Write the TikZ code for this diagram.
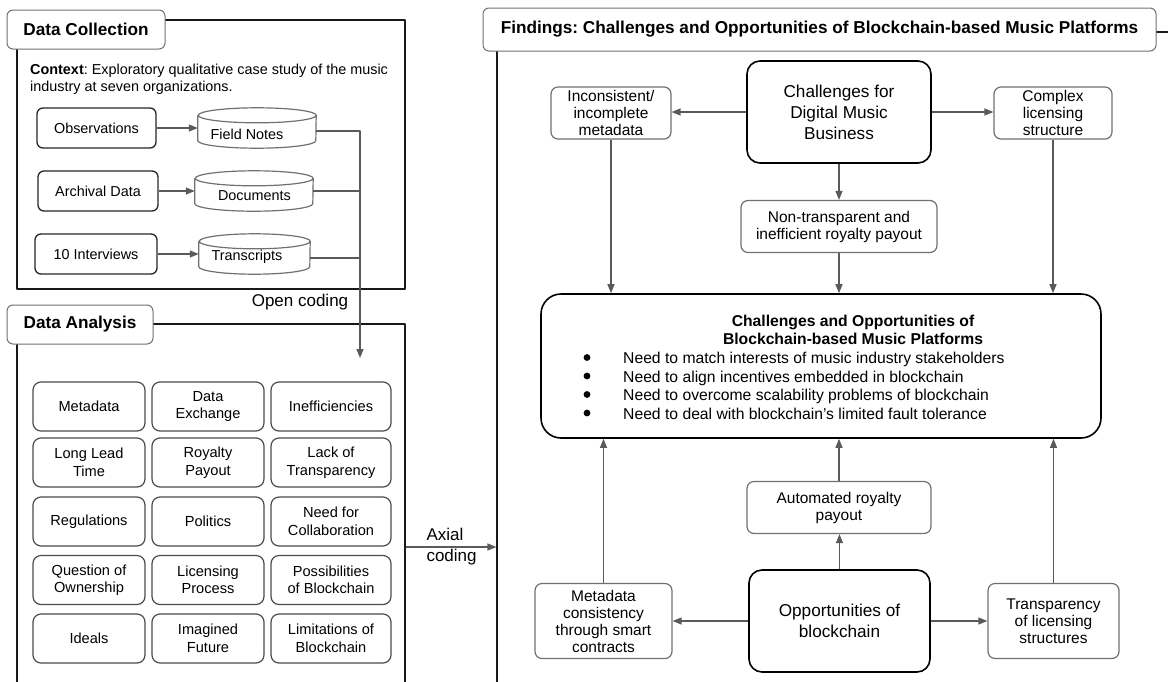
\documentclass[tikz,border=0pt]{standalone}
\usepackage{fontspec}
\setmainfont{Liberation Sans}
\usetikzlibrary{arrows.meta,positioning,calc}
\definecolor{linegray}{HTML}{5A5A5A}
\definecolor{framegray}{HTML}{707070}
\frenchspacing
\tikzset{
  paneltitle/.style={draw=framegray,fill=white,rounded corners=6pt,line width=1pt,
    font=\fontsize{17.2}{20}\selectfont\bfseries},
  panel/.style={draw=black!90,line width=1.2pt},
  srcbox/.style={draw=black!85,rounded corners=6pt,line width=1.3pt,
    minimum height=40pt,font=\fontsize{14.4}{17}\selectfont},
  cylline/.style={draw=framegray,line width=1.2pt},
  codebox/.style={draw=black!70,rounded corners=8pt,line width=1.2pt,align=center,
    minimum height=49pt,font=\fontsize{14.6}{17.5}\selectfont},
  findbox/.style={draw=framegray,rounded corners=7pt,line width=1.2pt,align=center,
    font=\fontsize{15.5}{17}\selectfont},
  keybox/.style={draw=black,rounded corners=13pt,line width=1.6pt,align=center,
    font=\fontsize{17.2}{21}\selectfont},
  conn/.style={draw=linegray,line width=1.3pt,-{Triangle[length=9pt,width=7pt]}},
  plain/.style={draw=linegray,line width=1.3pt}
}

\begin{document}
\begin{tikzpicture}[x=1pt,y=-1pt,line join=round]
  \useasboundingbox (0,0) rectangle (1168,681);
  \clip (0,0) rectangle (1168,681);

  % panels
  \node[panel,minimum width=388pt,minimum height=269pt] (dcpan) at (211,154.5) {};
  \node[panel,minimum width=388pt,minimum height=416pt] (dapan) at (211,532) {};
  \node[panel,minimum width=743pt,minimum height=708pt] (fipan) at (868.5,386) {};
  \node[paneltitle,minimum width=158pt,minimum height=39pt] (dctitle) at (86,29.5) {Data Collection};
  \node[paneltitle,minimum width=146pt,minimum height=39pt] (datitle) at (80,324.5) {Data Analysis};
  \node[paneltitle,minimum width=673pt,minimum height=43pt] (fititle) at (819.5,29.5)
    {Findings: Challenges and Opportunities of Blockchain-based Music Platforms};

  % data collection
  \node[anchor=north west,inner sep=0pt,align=left,font=\fontsize{14.4}{17}\selectfont] (ctx) at (30,64)
    {\textbf{Context}: Exploratory qualitative case study of the music\\industry at seven organizations.};
  \node[srcbox,minimum width=119pt] (obs) at (96.5,128) {Observations};
  \node[srcbox,minimum width=120pt] (arch) at (98,191) {Archival Data};
  \node[srcbox,minimum width=122pt] (intv) at (96,254) {10 Interviews};

  \node[minimum width=118pt,minimum height=40pt] (fn) at (257,128) {};
  \node[minimum width=118pt,minimum height=40pt] (doc) at (254,191) {};
  \node[minimum width=111pt,minimum height=40pt] (tr) at (254.5,254) {};
  \foreach \n/\r in {fn/59,doc/59,tr/55.5}
    \draw[cylline] ([yshift=-7.5pt]\n.north west) -- ([yshift=7.5pt]\n.south west)
      arc[start angle=180,end angle=360,x radius=\r pt,y radius=7.5pt]
      -- ([yshift=-7.5pt]\n.north east)
      arc[start angle=0,end angle=180,x radius=\r pt,y radius=7.5pt]
      arc[start angle=180,end angle=360,x radius=\r pt,y radius=7.5pt];
  \node[font=\fontsize{14.4}{17}\selectfont] (fntxt) at (247,134) {Field Notes};
  \node[font=\fontsize{14.4}{17}\selectfont] (doctxt) at (254.5,196) {Documents};
  \node[font=\fontsize{14.4}{17}\selectfont] (trtxt) at (247,257) {Transcripts};

  \draw[conn] (obs.east) -- (obs.east -| fn.west);
  \draw[conn] (arch.east) -- (arch.east -| doc.west);
  \draw[conn] (intv.east) -- (intv.east -| tr.west);

  % open coding
  \coordinate (ocend) at (360,358);
  \draw[conn] ([yshift=-3pt]fn.east) -| (ocend);
  \draw[plain] (doc.east) -- (doc.east -| ocend);
  \draw[plain] ([yshift=-4pt]tr.east) -- ([yshift=-4pt]tr.east -| ocend);
  \node[font=\fontsize{17}{20}\selectfont] (oclabel) at (300,302) {Open coding};

  % data analysis codes
  \foreach \t [count=\k from 0] in {Metadata,Data\\Exchange,Inefficiencies,
      Long Lead\\Time,Royalty\\Payout,Lack of\\Transparency,
      Regulations,Politics,Need for\\Collaboration,
      Question of\\Ownership,Licensing\\Process,Possibilities\\of Blockchain,
      Ideals,Imagined\\Future,Limitations of\\Blockchain}{
    \pgfmathtruncatemacro\c{mod(\k,3)}
    \pgfmathtruncatemacro\r{\k/3}
    \pgfmathsetmacro\gx{{89,208,331}[\c]}
    \pgfmathsetmacro\gw{{112,112,120}[\c]}
    \pgfmathsetmacro\gy{{406.5,462.5,521.5,580,638.5}[\r]}
    \node[codebox,minimum width=\gw pt] (g\k) at (\gx,\gy) {\t};
  }

  % axial coding
  \coordinate (axs) at (dapan.east |- 0,547);
  \draw[conn] (axs) -- (axs -| fipan.west);
  \node[anchor=west,align=left,font=\fontsize{17}{21}\selectfont] (axlabel) at (423,547) {Axial\\coding};

  % findings
  \node[keybox,minimum width=184pt,minimum height=102pt] (chal) at (839,112) {Challenges for\\Digital Music\\Business};
  \node[findbox,minimum width=120pt,minimum height=52pt] (incon) at (611,113) {Inconsistent/\\incomplete\\metadata};
  \node[findbox,minimum width=118pt,minimum height=52pt] (compl) at (1053,113) {Complex\\licensing\\structure};
  \node[findbox,minimum width=196pt,minimum height=52pt] (nontr) at (839,226.5) {Non-transparent and\\inefficient royalty payout};

  \node[keybox,rounded corners=20pt,minimum width=560pt,minimum height=144pt] (big) at (821,366) {};
  \node[align=center,font=\fontsize{15.7}{18.5}\selectfont\bfseries] (bigtitle) at (853,330)
    {Challenges and Opportunities of\\Blockchain-based Music Platforms};
  \node[anchor=north west,inner sep=0pt,align=left,font=\fontsize{15.7}{18.5}\selectfont] (biglist) at (623,352)
    {Need to match interests of music industry stakeholders\\
     Need to align incentives embedded in blockchain\\
     Need to overcome scalability problems of blockchain\\
     Need to deal with blockchain's limited fault tolerance};
  \foreach \y in {357.5,376,394.5,413}
    \fill (587,\y) circle (3.4pt);

  \node[findbox,minimum width=184pt,minimum height=52pt] (auto) at (839,507.5) {Automated royalty\\payout};
  \node[keybox,minimum width=181pt,minimum height=102pt] (opp) at (839.5,621) {Opportunities of\\blockchain};
  \node[findbox,minimum width=137pt,minimum height=75pt] (meta) at (603.5,621) {Metadata\\consistency\\through smart\\contracts};
  \node[findbox,minimum width=131pt,minimum height=75pt] (transp) at (1053.5,621) {Transparency\\of licensing\\structures};

  \draw[conn] (chal.west) -- (chal.west -| incon.east);
  \draw[conn] (chal.east) -- (chal.east -| compl.west);
  \draw[conn] (chal.south) -- (nontr.north);
  \draw[conn] (incon.south) -- (incon.south |- big.north);
  \draw[conn] (nontr.south) -- (nontr.south |- big.north);
  \draw[conn] (compl.south) -- (compl.south |- big.north);

  \draw[conn] (opp.west) -- (opp.west -| meta.east);
  \draw[conn] (opp.east) -- (opp.east -| transp.west);
  \draw[conn] (opp.north) -- (opp.north |- auto.south);
  \draw[conn] (auto.north) -- (auto.north |- big.south);
  \draw[conn] (meta.north) -- (meta.north |- big.south);
  \draw[conn] (transp.north) -- (transp.north |- big.south);
\end{tikzpicture}
\end{document}
